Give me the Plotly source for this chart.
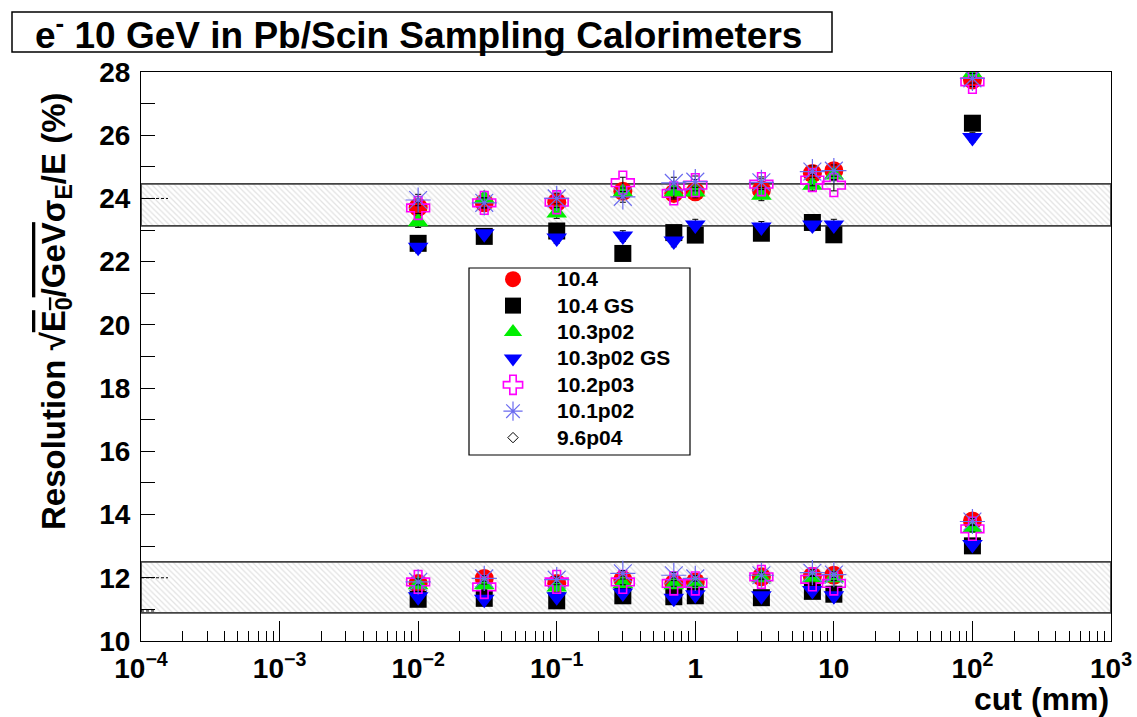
import plotly.graph_objects as go

# ---------------- data ----------------
cuts = [0.01, 0.03, 0.1, 0.3, 0.7, 1, 3, 7, 10, 100]

v104_hi = [23.72, 23.86, 23.88, 24.23, 24.16, 24.21, 24.27, 24.79, 24.88, 27.75]
v104_lo = [11.82, 11.98, 11.82, 11.94, 11.82, 11.87, 12.03, 12.05, 12.08, 13.80]

v104gs_hi = [22.58, 22.80, 22.97, 22.26, 22.92, 22.84, 22.90, 23.24, 22.85, 26.38]
v104gs_lo = [11.32, 11.35, 11.27, 11.43, 11.40, 11.43, 11.37, 11.57, 11.48, 13.01]

v103_hi = [23.26, 24.00, 23.54, 24.20, 24.20, 24.20, 24.10, 24.42, 24.74, 27.96]
v103_lo = [11.78, 11.78, 11.71, 11.82, 11.78, 11.82, 12.00, 12.00, 12.00, 13.57]

v103gs_hi = [22.46, 22.88, 22.75, 22.81, 22.65, 23.16, 23.10, 23.16, 23.16, 25.93]
v103gs_lo = [11.40, 11.32, 11.40, 11.52, 11.35, 11.46, 11.43, 11.60, 11.43, 13.05]

v102_hi = [23.70, 23.86, 23.88, 24.50, 24.16, 24.42, 24.45, 24.58, 24.42, 27.69]
v102_lo = [11.87, 11.71, 11.87, 11.87, 11.82, 11.82, 12.03, 11.95, 11.82, 13.55]

v101_hi = [23.95, 23.86, 24.00, 24.05, 24.49, 24.53, 24.51, 24.85, 24.88, 27.80]
v101_lo = [11.87, 11.98, 11.94, 12.14, 12.08, 11.98, 12.08, 12.16, 12.10, 13.78]

# 9.6p04 points are hidden underneath the other markers in the reference
v96_hi = [23.72, 23.86, 23.88, 24.23, 24.16, 24.21, 24.27, 24.79, 24.88, 27.75]
v96_lo = [11.82, 11.98, 11.82, 11.94, 11.82, 11.87, 12.03, 12.05, 12.08, 13.80]

err_hi = [0.18, 0.16, 0.17, 0.17, 0.18, 0.18, 0.17, 0.18, 0.18, 0.15]
err_lo = [0.09, 0.09, 0.09, 0.09, 0.09, 0.09, 0.09, 0.09, 0.09, 0.10]

band_hi = [23.13, 24.46]
band_lo = [10.89, 12.50]
ref_lines = [24.0, 12.0, 10.95]

x_tickvals = [1e-4, 1e-3, 1e-2, 1e-1, 1, 10, 100, 1000]
x_ticktext = ["10<sup>\u22124</sup>", "10<sup>\u22123</sup>", "10<sup>\u22122</sup>",
              "10<sup>\u22121</sup>", "1", "10", "10<sup>2</sup>", "10<sup>3</sup>"]

# (name, upper values, lower values, marker, legend rank)
series = [
    ("9.6p04", v96_hi, v96_lo, dict(symbol="diamond-open", size=8, color="#000000",
                                    line=dict(color="#000000", width=1)), 7),
    ("10.4", v104_hi, v104_lo, dict(symbol="circle", size=19, color="#ff0000"), 1),
    ("10.4 GS", v104gs_hi, v104gs_lo, dict(symbol="square", size=17, color="#000000"), 2),
    ("10.3p02", v103_hi, v103_lo, dict(symbol="triangle-up", size=18, color="#00ee00"), 3),
    ("10.3p02 GS", v103gs_hi, v103gs_lo, dict(symbol="triangle-down", size=18, color="#0000ff"), 4),
    ("10.2p03", v102_hi, v102_lo, dict(symbol="cross-open", size=19, color="#ff00ff",
                                       line=dict(color="#ff00ff", width=1.6)), 5),
    ("10.1p02", v101_hi, v101_lo, dict(symbol="asterisk-open", size=21, color="#6b6bf0",
                                       line=dict(color="#6b6bf0", width=1.2)), 6),
]

FONT = "Liberation Sans, Arial, Helvetica, sans-serif"

# plot-area pixel helpers (plot area: x 141..1111, y 72..641)
def px(x):
    return (x - 141) / 970


def py(y):
    return 1 - (y - 72) / 569


fig = go.Figure()

# hatched bands
for lo, hi in (band_hi, band_lo):
    fig.add_trace(go.Scatter(
        x=[1e-4, 1e3, 1e3, 1e-4, 1e-4], y=[lo, lo, hi, hi, lo],
        mode="lines", fill="toself", fillcolor="white",
        fillpattern=dict(shape="\\", fgcolor="#c4c4c4", bgcolor="white", size=4, solidity=0.3),
        line=dict(color="#444444", width=1.8), showlegend=False, hoverinfo="skip"))

for name, yh, yl, mk, rank in series:
    fig.add_trace(go.Scatter(
        x=cuts + cuts, y=list(yh) + list(yl), mode="markers",
        name="<span style='font-size:21px'>" + name + "</span>",
        legendrank=rank, marker=mk,
        error_y=dict(type="data", array=err_hi + err_lo, visible=True, color="#000000",
                     thickness=1, width=3)))

shapes = []
# title box
shapes.append(dict(type="rect", xref="paper", yref="paper",
                   x0=px(12), x1=px(832), y0=py(52), y1=py(12),
                   line=dict(color="black", width=1.5), fillcolor="white", layer="below"))
# legend frame
shapes.append(dict(type="rect", xref="paper", yref="paper",
                   x0=px(469), x1=px(690), y0=py(455), y1=py(268),
                   line=dict(color="black", width=1.2), fillcolor="white", layer="below"))
# short dashed reference lines at left edge
for v, ln in zip(ref_lines, [27, 27, 14]):
    shapes.append(dict(type="line", xref="paper", yref="y", x0=0, x1=ln / 970,
                       y0=v, y1=v, line=dict(color="black", width=1, dash="3px,2px")))

fig.update_layout(
    width=1137, height=717,
    margin=dict(l=141, r=26, t=72, b=76, autoexpand=False),
    paper_bgcolor="white", plot_bgcolor="rgba(0,0,0,0)",
    font=dict(family=FONT, color="black", weight="bold"),
    shapes=shapes,
    showlegend=True,
    legend=dict(x=px(469), y=py(261), xanchor="left", yanchor="top",
                bgcolor="rgba(0,0,0,0)", borderwidth=0,
                font=dict(family=FONT, size=18, color="black", weight="bold"),
                itemwidth=78, tracegroupgap=0, traceorder="normal"),
    annotations=[
        dict(text="e<sup>-</sup> 10 GeV in Pb/Scin Sampling Calorimeters",
             xref="paper", yref="paper", x=px(418), y=py(32),
             xanchor="center", yanchor="middle", showarrow=False,
             font=dict(family=FONT, size=37, color="black", weight="bold")),
        dict(text="Resolution \u221a<span style='text-decoration:overline'>E<sub>0</sub>/GeV</span>"
                  "\u03c3<sub>E</sub>/E (%)",
             xref="paper", yref="paper", x=px(56), y=py(311),
             xanchor="center", yanchor="middle", textangle=-90, showarrow=False,
             font=dict(family=FONT, size=33, color="black", weight="bold")),
        dict(text="cut (mm)", xref="paper", yref="paper", x=px(1111), y=py(699),
             xanchor="right", yanchor="middle", showarrow=False,
             font=dict(family=FONT, size=32, color="black", weight="bold")),
    ],
)

fig.update_xaxes(
    type="log", range=[-4, 3], showgrid=False, zeroline=False, automargin=False,
    showline=True, linecolor="black", linewidth=1.2, mirror=True,
    tickvals=x_tickvals, ticktext=x_ticktext,
    ticks="inside", ticklen=20, tickcolor="black", tickwidth=1,
    tickfont=dict(family=FONT, size=28, color="black", weight="bold"),
    ticklabelstandoff=2,
    minor=dict(ticks="inside", ticklen=10, tickcolor="black", tickwidth=1, dtick="D1",
               showgrid=False),
)
fig.update_yaxes(
    range=[10, 28], dtick=2, showgrid=False, zeroline=False, automargin=False,
    showline=True, linecolor="black", linewidth=1.2, mirror=True,
    ticks="inside", ticklen=14, tickcolor="black", tickwidth=1,
    tickfont=dict(family=FONT, size=28, color="black", weight="bold"),
    ticklabelstandoff=4,
    minor=dict(ticks="inside", ticklen=14, tickcolor="black", tickwidth=1, dtick=1,
               showgrid=False),
)

fig.write_html("out.html")
